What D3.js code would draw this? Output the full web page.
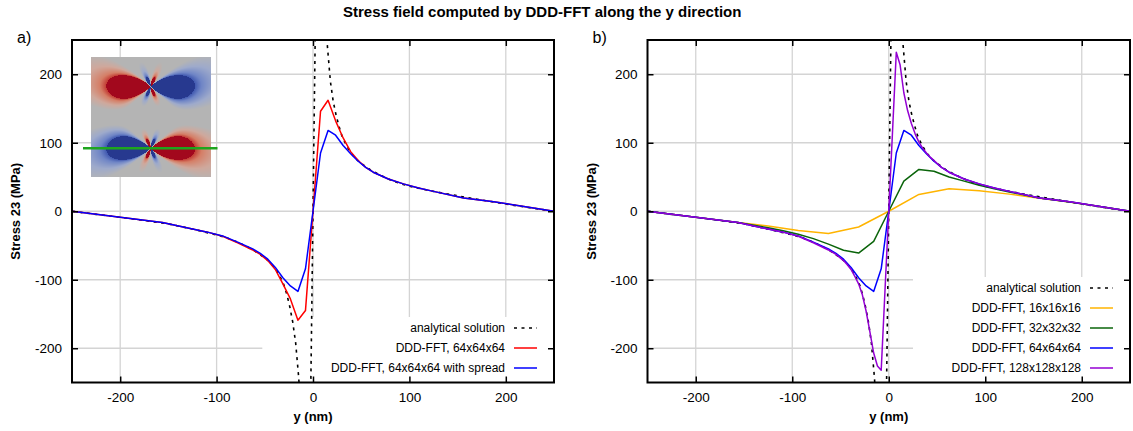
<!DOCTYPE html>
<html>
<head>
<meta charset="utf-8">
<script src="https://cdn.jsdelivr.net/npm/d3@7"></script>
<style>
  body { margin: 0; background: #fff; }
  svg { display: block; }
</style>
</head>
<body>
<div id="chart"></div>
<script>
// ---- data (y in nm, stress in MPa) ----
const yAnalytic = [-250,-225,-200,-175,-150,-125,-100,-90,-80,-70,-60,-50,-45,-40,-35,-30,-27,-24,-21,-18,-15,-12,-9,-6,-3,-1.5,0,1.5,3,6,9,12,15,18,21,24,27,30,35,40,45,50,60,70,80,90,100,125,150,175,200,225,250];
const sAnalytic = [0,-4.5,-8.8,-13.5,-18.5,-26,-34.5,-38.5,-44,-50.5,-58.5,-68,-74,-82,-93,-108,-122,-140,-162,-192,-240,-300,-400,-420,-330,-170,0,170,330,420,400,300,240,190,160,140,124,110,95,84,76,70,60,52.5,46,40.5,36.5,29,22.5,16.5,10.5,5,0];

const y16 = [-250,-218.75,-187.5,-156.25,-125,-93.75,-62.5,-31.25,0,31.25,62.5,93.75,125,156.25,187.5,218.75,250];
const s16 = [0,-5.5,-11,-16.5,-21.5,-28,-32.5,-23,0,24.5,33,30,25,19,13.5,7,0];

const y32 = [-250,-218.75,-187.5,-156.25,-125,-109.375,-93.75,-78.125,-62.5,-46.875,-31.25,-15.625,0,15.625,31.25,46.875,62.5,78.125,93.75,109.375,125,156.25,187.5,218.75,250];
const s32 = [0,-5.5,-11,-16.5,-24,-28.5,-33.5,-40,-48,-57,-61,-44,0,44,61,58.5,50,44,38,33,28,19.5,13.5,7,0];

const y64 = [-250,-218.75,-187.5,-156.25,-125,-109.375,-93.75,-78.125,-62.5,-54.6875,-46.875,-39.0625,-31.25,-23.4375,-15.625,-7.8125,0,7.8125,15.625,23.4375,31.25,39.0625,46.875,54.6875,62.5,78.125,93.75,109.375,125,156.25,187.5,218.75,250];
const s64 = [0,-5.5,-11,-16.5,-26,-30.5,-36.5,-46,-56.5,-63,-72,-85,-106,-128,-159,-145,0,146,162,132,107,87,74,64,57,47,40,34,29,19.5,14,7,0];
const s64spread = [0,-5.5,-11,-16.5,-26,-30.5,-36,-45,-55,-61.5,-70,-82,-97,-109,-117,-84,0,85,118,111,96,84,73,64,57,47,40,34,29,19.5,14,7,0];

const y128 = [-250,-218.75,-187.5,-156.25,-125,-109.375,-93.75,-78.125,-62.5,-54.6875,-46.875,-42.97,-39.0625,-35.16,-31.25,-27.34,-23.4375,-19.53,-15.625,-11.72,-7.8125,-3.906,0,3.906,7.8125,11.72,15.625,19.53,23.4375,27.34,31.25,35.16,39.0625,42.97,46.875,54.6875,62.5,78.125,93.75,109.375,125,156.25,187.5,218.75,250];
const s128 = [0,-5.5,-11,-16.5,-26,-30.5,-36.5,-46,-56.5,-63,-72,-78,-85,-95,-106,-122,-146,-176,-207,-226,-232,-116,0,116,232,214,173,147,128,113,101,92,85,79,74,64,57,47,40,34,29,19.5,14,7,0];

const tickValues = [-200, -100, 0, 100, 200];

const legendA = ["analytical solution", "DDD-FFT, 64x64x64", "DDD-FFT, 64x64x64 with spread"];
const legendB = ["analytical solution", "DDD-FFT, 16x16x16", "DDD-FFT, 32x32x32", "DDD-FFT, 64x64x64", "DDD-FFT, 128x128x128"];

// ---- drawing ----
const FONT = "'Liberation Sans', Arial, Helvetica, sans-serif";
const W = 1133, H = 431;
const svg = d3.select("#chart").append("svg")
  .attr("width", W).attr("height", H)
  .attr("font-family", FONT);

svg.append("text")
  .attr("x", 343).attr("y", 17)
  .attr("font-size", 15).attr("font-weight", "bold")
  .text("Stress field computed by DDD-FFT along the y direction");

const dashed = { color: "#000", dash: "3,4.5", width: 1.6 };

function zip(xs, ys) { return xs.map((v, i) => [v, ys[i]]); }

function drawPanel(p) {
  const x = d3.scaleLinear([-250, 250], [p.left, p.right]);
  const y = d3.scaleLinear([-250, 250], [382.5, 40]);
  const g = svg.append("g");

  // panel letter
  g.append("text").attr("x", p.left - 55).attr("y", 43)
    .attr("font-size", 16).text(p.letter);

  // grid
  g.append("g").selectAll("line").data(tickValues).join("line")
    .attr("x1", d => x(d)).attr("x2", d => x(d))
    .attr("y1", y(-250)).attr("y2", y(250))
    .attr("stroke", "#d4d4d4").attr("stroke-width", 1.3);
  g.append("g").selectAll("line").data(tickValues).join("line")
    .attr("y1", d => y(d)).attr("y2", d => y(d))
    .attr("x1", x(-250)).attr("x2", x(250))
    .attr("stroke", "#d4d4d4").attr("stroke-width", 1.3);

  if (p.inset) drawInset(g);

  // opaque key box
  const nRows = p.legend.length;
  const maxChars = d3.max(p.legend, s => s.length);
  const rowY = i => 368 - 20 * (nRows - 1 - i);
  const boxW = 8.3 * maxChars + 51;
  g.append("rect")
    .attr("x", x(250) - boxW).attr("y", rowY(0) - 11)
    .attr("width", boxW).attr("height", y(-250) - rowY(0) + 11)
    .attr("fill", "#fff");

  // curves
  const clipId = "clip" + p.letter.replace(")", "");
  svg.append("clipPath").attr("id", clipId).append("rect")
    .attr("x", x(-250)).attr("y", y(250))
    .attr("width", x(250) - x(-250)).attr("height", y(-250) - y(250));
  const line = d3.line().x(d => x(d[0])).y(d => y(d[1]));
  const cg = g.append("g").attr("clip-path", `url(#${clipId})`);
  p.series.forEach(s => {
    cg.append("path")
      .attr("d", line(s.data))
      .attr("fill", "none")
      .attr("stroke", s.color)
      .attr("stroke-width", s.width || 1.5)
      .attr("stroke-dasharray", s.dash || null)
      .attr("stroke-linejoin", "round");
  });

  // frame
  g.append("rect")
    .attr("x", x(-250)).attr("y", y(250))
    .attr("width", x(250) - x(-250)).attr("height", y(-250) - y(250))
    .attr("fill", "none").attr("stroke", "#000").attr("stroke-width", 2);

  // axes (ticks inside, mirrored)
  const fmt = d => String(d);
  const axes = [
    [d3.axisBottom(x), `translate(0,${y(-250)})`, true],
    [d3.axisTop(x), `translate(0,${y(250)})`, false],
    [d3.axisLeft(y), `translate(${x(-250)},0)`, true],
    [d3.axisRight(y), `translate(${x(250)},0)`, false]
  ];
  axes.forEach(([ax, tr, labels]) => {
    const a = g.append("g").attr("transform", tr)
      .call(ax.tickValues(tickValues).tickSize(-6).tickPadding(10).tickFormat(labels ? fmt : ""));
    a.select(".domain").remove();
    a.attr("font-family", FONT).attr("font-size", 13.5);
    a.selectAll("line").attr("stroke", "#000").attr("stroke-width", 1.5);
    a.selectAll("text").attr("fill", "#000");
  });

  // axis titles
  g.append("text")
    .attr("x", (x(-250) + x(250)) / 2).attr("y", 421)
    .attr("text-anchor", "middle").attr("font-size", 13).attr("font-weight", "bold")
    .text("y (nm)");
  g.append("text")
    .attr("transform", `translate(${x(-250) - 52},${y(0)}) rotate(-90)`)
    .attr("text-anchor", "middle").attr("font-size", 13).attr("font-weight", "bold")
    .text("Stress 23 (MPa)");

  // legend
  const lg = g.append("g");
  p.legend.forEach((label, i) => {
    const s = p.series[i];
    lg.append("text")
      .attr("x", x(250) - 49).attr("y", rowY(i)).attr("dy", "0.35em")
      .attr("text-anchor", "end").attr("font-size", 12)
      .text(label);
    lg.append("line")
      .attr("x1", x(250) - 40).attr("x2", x(250) - 17)
      .attr("y1", rowY(i)).attr("y2", rowY(i))
      .attr("stroke", s.color).attr("stroke-width", s.width || 1.5)
      .attr("stroke-dasharray", s.dash || null);
  });
}

// small stress-map inset (image, not data)
function drawInset(g) {
  const N = 120, ox = 91, oy = 57;
  const cores = [{ x: 59.7, y: 29.7, sign: 1 }, { x: 59.7, y: 91.3, sign: -1 }];
  const L = 40;
  const color = d3.scaleLinear()
    .domain([-1.0001, -1, -0.85, -0.6, -0.35, 0.35, 0.6, 0.85, 1, 1.0001])
    .range(["#27398f", "#4159b0", "#6f85c6", "#9eaacb", "#b4b4b4", "#b4b4b4", "#cfa89c", "#d57e66", "#c23b33", "#a2081d"])
    .clamp(true);
  const cv = document.createElement("canvas");
  cv.width = N; cv.height = N;
  const ctx = cv.getContext("2d");
  const im = ctx.createImageData(N, N);
  for (let j = 0; j < N; j++) {
    for (let i = 0; i < N; i++) {
      let v = 0;
      cores.forEach(c => {
        const dx = i + 0.5 - c.x, dy = j + 0.5 - c.y;
        const r2 = dx * dx + dy * dy + 0.3;
        v += c.sign * (-dx * (dx * dx - dy * dy)) / (r2 * r2) * L;
      });
      const col = d3.rgb(color(v));
      const k = 4 * (j * N + i);
      im.data[k] = col.r; im.data[k + 1] = col.g; im.data[k + 2] = col.b; im.data[k + 3] = 255;
    }
  }
  ctx.putImageData(im, 0, 0);
  g.append("image").attr("href", cv.toDataURL())
    .attr("x", ox).attr("y", oy).attr("width", N).attr("height", N);
  g.append("line")
    .attr("x1", 83).attr("x2", 217.5).attr("y1", 148.3).attr("y2", 148.3)
    .attr("stroke", "#1ea51e").attr("stroke-width", 2.6);
}

drawPanel({
  letter: "a)", left: 72, right: 554, inset: true,
  legend: legendA,
  series: [
    { data: zip(yAnalytic, sAnalytic), ...dashed },
    { data: zip(y64, s64), color: "#ff0000" },
    { data: zip(y64, s64spread), color: "#0000ff" }
  ]
});

drawPanel({
  letter: "b)", left: 647.5, right: 1130, inset: false,
  legend: legendB,
  series: [
    { data: zip(yAnalytic, sAnalytic), ...dashed },
    { data: zip(y16, s16), color: "#ffb400" },
    { data: zip(y32, s32), color: "#0a640a" },
    { data: zip(y64, s64spread), color: "#0000ff" },
    { data: zip(y128, s128), color: "#9400d3" }
  ]
});
</script>
</body>
</html>
